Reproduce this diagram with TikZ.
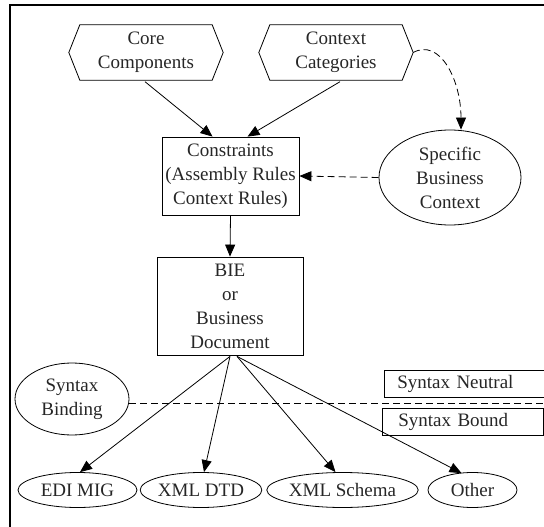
\documentclass[tikz,border=0pt]{standalone}
\usepackage{fontspec}
\setmainfont{Liberation Serif}
\usetikzlibrary{shapes.geometric,arrows.meta,calc}
\begin{document}
\begin{tikzpicture}[x=1pt,y=-1pt,
  every node/.style={font=\fontsize{19}{24}\selectfont, text=black!85, align=center},
  line/.style={line width=0.8pt},
  arr/.style={line, -{Triangle[length=12pt,width=10pt]}},
  dsh/.style={line, dash pattern=on 7pt off 4pt},
  hexbox/.style={minimum width=154pt, minimum height=55pt, inner sep=0pt},
  rbox/.style={draw, line width=0.8pt, inner sep=0pt},
  ell/.style={draw, ellipse, line width=0.8pt, inner sep=0pt},
  tag/.style={draw, line width=0.8pt, minimum height=27pt, inner ysep=0pt, anchor=west, align=left}
]
\useasboundingbox (0,0) rectangle (544,527);
% frame
\draw[line width=1.5pt] (10,527) -- (10,5) -- (548,5);

% hexagons
\node[hexbox] (core) at (146,52.5) {Core\\Components};
\node[hexbox] (cat) at (336,52.5) {Context\\Categories};
\foreach \n in {core,cat}{
  \draw[line] ($(\n.north west)+(11,0)$) -- ($(\n.north east)+(-11,0)$) -- (\n.east)
    -- ($(\n.south east)+(-11,0)$) -- ($(\n.south west)+(11,0)$) -- (\n.west) -- cycle;
}

\node[rbox, minimum width=137pt, minimum height=78pt] (cons) at (230.5,176) {Constraints\\(Assembly Rules\\Context Rules)};
\node[ell, minimum width=142pt, minimum height=95pt] (spec) at (450,177.5) {Specific\\Business\\Context};
\node[rbox, minimum width=146pt, minimum height=98pt] (bie) at (230,306) {BIE\\or\\Business\\Document};
\node[ell, minimum width=114pt, minimum height=72pt] (bind) at (72,399) {Syntax\\Binding};

\node[tag, text width=140pt, inner xsep=13pt] (neutral) at (384,383.5) {Syntax Neutral};
\node[tag, text width=129pt, inner xsep=16pt] (bound) at (382,421.5) {Syntax Bound};

\node[ell, minimum width=119pt, minimum height=35pt] (edi) at (77.5,490) {EDI MIG};
\node[ell, minimum width=114pt, minimum height=35pt] (dtd) at (201,490) {XML DTD};
\node[ell, minimum width=149pt, minimum height=35pt] (xsd) at (342.5,490) {XML Schema};
\node[ell, minimum width=89pt, minimum height=35pt] (oth) at (472.5,490) {Other};

% connectors
\coordinate (cin1) at ($(cons.north)+(-18,0)$);
\coordinate (cin2) at ($(cons.north)+(17,0)$);
\draw[arr] ($(core.south)+(-1,1.5)$) -- (cin1);
\draw[arr] ($(cat.south)+(4,1.5)$) -- (cin2);
\draw[arr] (cons.south) -- (bie.north);
\draw[arr, dsh] (spec.west) -- (cons.east);
\draw[arr, dsh] (cat.east) .. controls (440,38) and (461,80) .. (spec.north -| 461,0);

\coordinate (bs1) at ($(bie.south)+(0,1)$);
\coordinate (bs2) at ($(bie.south)+(7,1)$);
\draw[arr] (bs1) -- (edi.north -| 80,0);
\draw[arr] (bs1) -- (dtd.north -| 204,0);
\draw[arr] (bs2) -- ($(xsd.north)+(-7,0)$);
\draw[arr] (bs2) -- ($(oth.north)+(-11,1)$);

% syntax divider
\coordinate (dend) at (548,403);
\draw[dsh] ($(bind.east)+(0,4)$) -- (dend);
\end{tikzpicture}
\end{document}
